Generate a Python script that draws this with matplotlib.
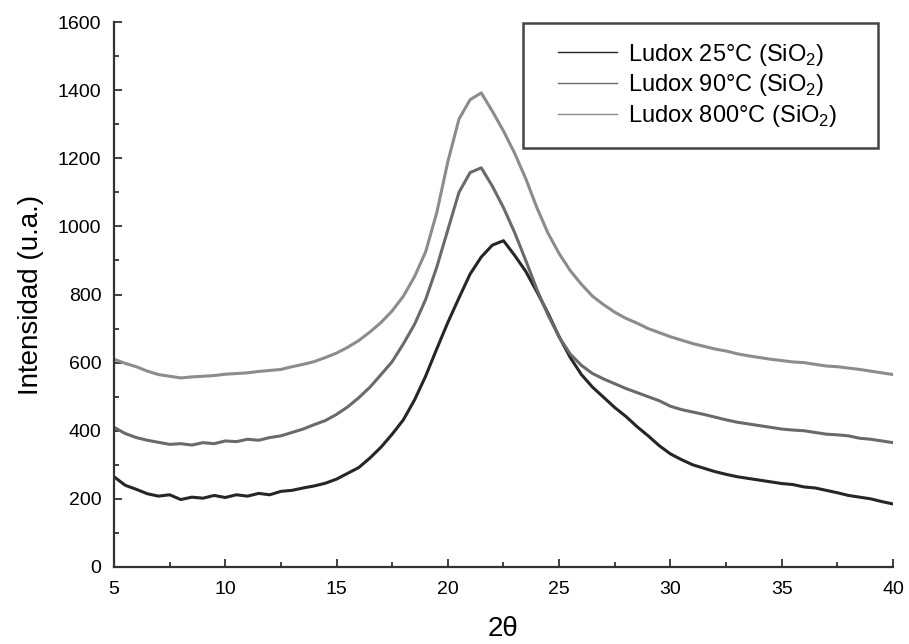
import matplotlib
matplotlib.use('Agg')
import matplotlib.pyplot as plt
from matplotlib.patches import Rectangle
from matplotlib.ticker import MultipleLocator

plt.rcParams['font.family'] = ['Liberation Sans', 'DejaVu Sans']
plt.rcParams['mathtext.fontset'] = 'custom'
plt.rcParams['mathtext.rm'] = 'Liberation Sans'

# 2theta grid (degrees)
two_theta = [5.0, 5.5, 6.0, 6.5, 7.0, 7.5, 8.0, 8.5, 9.0, 9.5, 10.0, 10.5, 11.0, 11.5,
             12.0, 12.5, 13.0, 13.5, 14.0, 14.5, 15.0, 15.5, 16.0, 16.5, 17.0, 17.5,
             18.0, 18.5, 19.0, 19.5, 20.0, 20.5, 21.0, 21.5, 22.0, 22.5, 23.0, 23.5,
             24.0, 24.5, 25.0, 25.5, 26.0, 26.5, 27.0, 27.5, 28.0, 28.5, 29.0, 29.5,
             30.0, 30.5, 31.0, 31.5, 32.0, 32.5, 33.0, 33.5, 34.0, 34.5, 35.0, 35.5,
             36.0, 36.5, 37.0, 37.5, 38.0, 38.5, 39.0, 39.5, 40.0]

ludox_25 = [265, 240, 228, 215, 208, 212, 198, 205, 202, 210, 204, 212, 208, 216,
            212, 222, 225, 232, 238, 246, 258, 275, 292, 320, 352, 390, 432, 490,
            560, 640, 718, 790, 860, 910, 945, 958, 915, 868, 808, 745, 676, 615,
            565, 528, 498, 468, 442, 412, 385, 356, 332, 315, 300, 290, 280, 272,
            265, 260, 255, 250, 245, 242, 235, 232, 225, 218, 210, 205, 200, 192, 185]

ludox_90 = [410, 392, 380, 372, 366, 360, 362, 358, 365, 362, 370, 368, 375, 372,
            380, 385, 395, 405, 418, 430, 448, 470, 497, 528, 565, 603, 655, 712,
            785, 880, 990, 1100, 1158, 1172, 1118, 1055, 982, 900, 815, 740, 675, 625,
            592, 568, 552, 538, 524, 512, 500, 488, 472, 462, 455, 448, 440, 432,
            425, 420, 415, 410, 405, 402, 400, 395, 390, 388, 385, 378, 375, 370, 365]

ludox_800 = [610, 598, 588, 575, 565, 560, 555, 558, 560, 562, 566, 568, 570, 574,
             577, 580, 588, 595, 603, 615, 628, 645, 665, 690, 718, 752, 795, 852,
             925, 1040, 1190, 1315, 1372, 1392, 1338, 1280, 1215, 1140, 1055, 980, 920, 870,
             830, 795, 770, 748, 730, 716, 700, 688, 676, 666, 656, 648, 640, 634,
             626, 620, 615, 610, 606, 602, 600, 595, 590, 588, 584, 580, 575, 570, 565]

labels = ['Ludox 25°C (SiO$_2$)', 'Ludox 90°C (SiO$_2$)', 'Ludox 800°C (SiO$_2$)']
colors = ['#262626', '#6a6a6a', '#8c8c8c']


def main():
    fig = plt.figure(figsize=(9.09, 6.44), dpi=100)
    ax = fig.add_axes([0.1254, 0.1196, 0.857, 0.8462])

    for ys, lab, c in zip([ludox_25, ludox_90, ludox_800], labels, colors):
        ax.plot(two_theta, ys, color=c, lw=2.2, label=lab)

    ax.set_xlim(5, 40)
    ax.set_ylim(0, 1600)
    ax.xaxis.set_major_locator(MultipleLocator(5))
    ax.xaxis.set_minor_locator(MultipleLocator(2.5))
    ax.yaxis.set_major_locator(MultipleLocator(200))
    ax.yaxis.set_minor_locator(MultipleLocator(100))
    ax.tick_params(which='both', direction='in', color='#333333', width=1.3, labelsize=14)
    ax.tick_params(which='major', length=6)
    ax.tick_params(which='minor', length=3.5)
    ax.tick_params(axis='y', which='major', pad=9)
    ax.tick_params(axis='x', which='major', pad=10)

    for side in ['top', 'right']:
        ax.spines[side].set_visible(False)
    for side in ['left', 'bottom']:
        ax.spines[side].set_linewidth(1.6)
        ax.spines[side].set_color('#333333')

    ax.set_xlabel('2θ', fontsize=20, labelpad=13)
    ax.set_ylabel('Intensidad (u.a.)', fontsize=20, labelpad=10)

    # legend frame drawn separately so its padding matches the original
    ax.add_patch(Rectangle((0.525, 0.769), 0.456, 0.229, transform=ax.transAxes,
                           fill=False, edgecolor='#444444', lw=1.8, zorder=5))
    leg = ax.legend(loc='center', bbox_to_anchor=(0.749, 0.884), fontsize=17,
                    frameon=False, handlelength=2.5, labelspacing=0.2,
                    borderpad=0.0, handletextpad=0.45)
    for line in leg.get_lines():
        line.set_linewidth(1.0)

    fig.savefig('out.png', dpi=100)


if __name__ == '__main__':
    main()
